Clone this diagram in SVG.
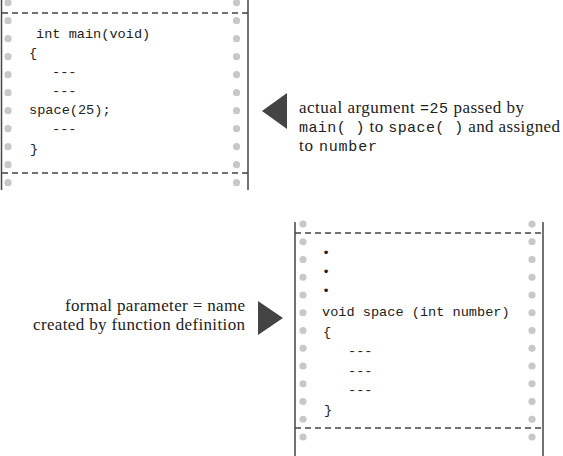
<svg xmlns="http://www.w3.org/2000/svg" width="563" height="456" viewBox="0 0 563 456">
<defs>
<style>
.edge{stroke:#444;stroke-width:1.5;fill:none}
.dash{stroke:#444;stroke-width:1.3;stroke-dasharray:6 4;fill:none}
.hole{fill:#c8c8c8}
.code{font-family:"Liberation Mono","Courier New",monospace;font-size:13.6px;fill:#222}
.note{font-family:"Liberation Serif","Times New Roman",serif;font-size:17px;fill:#222}
.mono{font-family:"Liberation Mono","Courier New",monospace;font-size:15px}
.tri{fill:#444}
</style>
</defs>
<rect width="563" height="456" fill="#fff"/>
<g id="main-sheet">
<line class="edge" x1="1.5" y1="0" x2="1.5" y2="190"/>
<line class="edge" x1="248" y1="0" x2="248" y2="190"/>
<line class="dash" x1="2" y1="13" x2="248" y2="13"/>
<line class="dash" x1="2" y1="173" x2="248" y2="173"/>
<g>
<circle class="hole" cx="8" cy="2.7" r="3.6"/><circle class="hole" cx="236.5" cy="2.7" r="3.6"/>
<circle class="hole" cx="8" cy="20.7" r="3.6"/><circle class="hole" cx="236.5" cy="20.7" r="3.6"/>
<circle class="hole" cx="8" cy="38.7" r="3.6"/><circle class="hole" cx="236.5" cy="38.7" r="3.6"/>
<circle class="hole" cx="8" cy="56.7" r="3.6"/><circle class="hole" cx="236.5" cy="56.7" r="3.6"/>
<circle class="hole" cx="8" cy="74.7" r="3.6"/><circle class="hole" cx="236.5" cy="74.7" r="3.6"/>
<circle class="hole" cx="8" cy="92.7" r="3.6"/><circle class="hole" cx="236.5" cy="92.7" r="3.6"/>
<circle class="hole" cx="8" cy="110.7" r="3.6"/><circle class="hole" cx="236.5" cy="110.7" r="3.6"/>
<circle class="hole" cx="8" cy="128.7" r="3.6"/><circle class="hole" cx="236.5" cy="128.7" r="3.6"/>
<circle class="hole" cx="8" cy="146.7" r="3.6"/><circle class="hole" cx="236.5" cy="146.7" r="3.6"/>
<circle class="hole" cx="8" cy="164.7" r="3.6"/><circle class="hole" cx="236.5" cy="164.7" r="3.6"/>
<circle class="hole" cx="8" cy="182.7" r="3.6"/><circle class="hole" cx="236.5" cy="182.7" r="3.6"/>
</g>
<text class="code" x="36" y="38">int main(void)</text>
<text class="code" x="29" y="57">{</text>
<text class="code" x="52" y="76">---</text>
<text class="code" x="52" y="95">---</text>
<text class="code" x="29" y="114">space(25);</text>
<text class="code" x="52" y="133">---</text>
<text class="code" x="30" y="153">}</text>
</g>
<g id="space-sheet">
<line class="edge" x1="295" y1="222" x2="295" y2="456"/>
<line class="edge" x1="543" y1="222" x2="543" y2="456"/>
<line class="dash" x1="295" y1="233" x2="543" y2="233"/>
<line class="dash" x1="295" y1="428" x2="543" y2="428"/>
<g>
<circle class="hole" cx="303" cy="224" r="3.6"/><circle class="hole" cx="532" cy="224" r="3.6"/>
<circle class="hole" cx="303" cy="241.75" r="3.6"/><circle class="hole" cx="532" cy="241.75" r="3.6"/>
<circle class="hole" cx="303" cy="259.5" r="3.6"/><circle class="hole" cx="532" cy="259.5" r="3.6"/>
<circle class="hole" cx="303" cy="277.25" r="3.6"/><circle class="hole" cx="532" cy="277.25" r="3.6"/>
<circle class="hole" cx="303" cy="295" r="3.6"/><circle class="hole" cx="532" cy="295" r="3.6"/>
<circle class="hole" cx="303" cy="312.75" r="3.6"/><circle class="hole" cx="532" cy="312.75" r="3.6"/>
<circle class="hole" cx="303" cy="330.5" r="3.6"/><circle class="hole" cx="532" cy="330.5" r="3.6"/>
<circle class="hole" cx="303" cy="348.25" r="3.6"/><circle class="hole" cx="532" cy="348.25" r="3.6"/>
<circle class="hole" cx="303" cy="366" r="3.6"/><circle class="hole" cx="532" cy="366" r="3.6"/>
<circle class="hole" cx="303" cy="383.75" r="3.6"/><circle class="hole" cx="532" cy="383.75" r="3.6"/>
<circle class="hole" cx="303" cy="401.5" r="3.6"/><circle class="hole" cx="532" cy="401.5" r="3.6"/>
<circle class="hole" cx="303" cy="419.25" r="3.6"/><circle class="hole" cx="532" cy="419.25" r="3.6"/>
<circle class="hole" cx="303" cy="437" r="3.6"/><circle class="hole" cx="532" cy="437" r="3.6"/>
</g>
<text class="code" x="322" y="257">•</text>
<text class="code" x="322" y="276">•</text>
<text class="code" x="322" y="295">•</text>
<text class="code" x="322" y="316">void space (int number)</text>
<text class="code" x="323" y="335.5">{</text>
<text class="code" x="348" y="355">---</text>
<text class="code" x="348" y="374.5">---</text>
<text class="code" x="348" y="394">---</text>
<text class="code" x="324" y="413.5">}</text>
</g>
<g id="actual-note">
<polygon class="tri" points="262,111 287,93 287,129"/>
<text class="note" x="299" y="113" textLength="225" lengthAdjust="spacing">actual argument <tspan class="mono">=25</tspan> passed by</text>
<text class="note" x="299" y="132" textLength="261" lengthAdjust="spacing"><tspan class="mono">main( )</tspan> to <tspan class="mono">space( )</tspan> and assigned</text>
<text class="note" x="299" y="151" textLength="78" lengthAdjust="spacing">to <tspan class="mono">number</tspan></text>
</g>
<g id="formal-note">
<polygon class="tri" points="258,301 283,318 258,335"/>
<text class="note" x="245" y="311" text-anchor="end" textLength="180" lengthAdjust="spacing">formal parameter = name</text>
<text class="note" x="245" y="330" text-anchor="end" textLength="212" lengthAdjust="spacing">created by function definition</text>
</g>
</svg>
